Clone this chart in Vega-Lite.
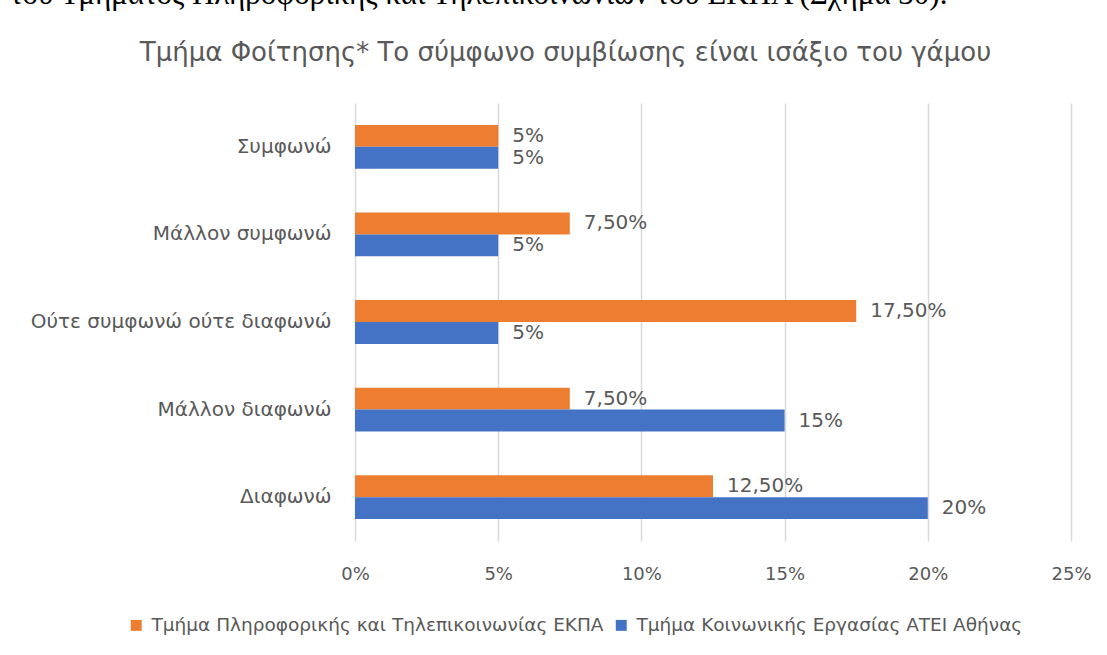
{
  "$schema": "https://vega.github.io/schema/vega-lite/v6.json",
  "autosize": "none",
  "width": 716,
  "height": 438,
  "padding": {"left": 355, "top": 103, "right": 36, "bottom": 114},
  "background": "white",
  "title": {
    "text": "του Τμήματος Πληροφορικής και Τηλεπικοινωνιών του ΕΚΠΑ (Σχήμα 30).",
    "font": "Liberation Serif",
    "fontSize": 31,
    "fontWeight": "normal",
    "color": "#000000",
    "anchor": "start",
    "frame": "group",
    "baseline": "alphabetic",
    "dx": -345,
    "offset": 4
  },
  "data": {
    "values": [
      {"cat": "Συμφωνώ", "series": "Τμήμα Πληροφορικής και Τηλεπικοινωνίας ΕΚΠΑ", "value": 0.05, "label": "5%"},
      {"cat": "Συμφωνώ", "series": "Τμήμα Κοινωνικής Εργασίας ΑΤΕΙ Αθήνας", "value": 0.05, "label": "5%"},
      {"cat": "Μάλλον συμφωνώ", "series": "Τμήμα Πληροφορικής και Τηλεπικοινωνίας ΕΚΠΑ", "value": 0.075, "label": "7,50%"},
      {"cat": "Μάλλον συμφωνώ", "series": "Τμήμα Κοινωνικής Εργασίας ΑΤΕΙ Αθήνας", "value": 0.05, "label": "5%"},
      {"cat": "Ούτε συμφωνώ ούτε διαφωνώ", "series": "Τμήμα Πληροφορικής και Τηλεπικοινωνίας ΕΚΠΑ", "value": 0.175, "label": "17,50%"},
      {"cat": "Ούτε συμφωνώ ούτε διαφωνώ", "series": "Τμήμα Κοινωνικής Εργασίας ΑΤΕΙ Αθήνας", "value": 0.05, "label": "5%"},
      {"cat": "Μάλλον διαφωνώ", "series": "Τμήμα Πληροφορικής και Τηλεπικοινωνίας ΕΚΠΑ", "value": 0.075, "label": "7,50%"},
      {"cat": "Μάλλον διαφωνώ", "series": "Τμήμα Κοινωνικής Εργασίας ΑΤΕΙ Αθήνας", "value": 0.15, "label": "15%"},
      {"cat": "Διαφωνώ", "series": "Τμήμα Πληροφορικής και Τηλεπικοινωνίας ΕΚΠΑ", "value": 0.125, "label": "12,50%"},
      {"cat": "Διαφωνώ", "series": "Τμήμα Κοινωνικής Εργασίας ΑΤΕΙ Αθήνας", "value": 0.2, "label": "20%"}
    ]
  },
  "encoding": {
    "y": {
      "field": "cat",
      "type": "nominal",
      "sort": ["Συμφωνώ", "Μάλλον συμφωνώ", "Ούτε συμφωνώ ούτε διαφωνώ", "Μάλλον διαφωνώ", "Διαφωνώ"],
      "scale": {"paddingInner": 0.5, "paddingOuter": 0.25},
      "axis": {
        "title": null,
        "domain": false,
        "ticks": false,
        "labelPadding": 24,
        "labelLimit": 0,
        "labelFont": "DejaVu Sans",
        "labelFontSize": 20,
        "labelColor": "#595959"
      }
    },
    "yOffset": {
      "field": "series",
      "type": "nominal",
      "sort": ["Τμήμα Πληροφορικής και Τηλεπικοινωνίας ΕΚΠΑ", "Τμήμα Κοινωνικής Εργασίας ΑΤΕΙ Αθήνας"],
      "scale": {"paddingInner": 0, "paddingOuter": 0}
    },
    "x": {
      "field": "value",
      "type": "quantitative",
      "scale": {"domain": [0, 0.25], "nice": false},
      "axis": {
        "title": null,
        "format": ".0%",
        "values": [0, 0.05, 0.1, 0.15, 0.2, 0.25],
        "domain": false,
        "ticks": false,
        "grid": true,
        "gridColor": "#d9d9d9",
        "gridWidth": 1.5,
        "labelFlush": false,
        "labelPadding": 24,
        "labelFont": "DejaVu Sans",
        "labelFontSize": 18,
        "labelColor": "#595959"
      }
    }
  },
  "layer": [
    {
      "mark": {"type": "bar"},
      "encoding": {
        "color": {
          "field": "series",
          "type": "nominal",
          "sort": ["Τμήμα Πληροφορικής και Τηλεπικοινωνίας ΕΚΠΑ", "Τμήμα Κοινωνικής Εργασίας ΑΤΕΙ Αθήνας"],
          "scale": {"range": ["#ED7D31", "#4472C4"]},
          "legend": {
            "title": null,
            "orient": "none",
            "direction": "horizontal",
            "legendX": -228,
            "legendY": 513,
            "symbolType": "square",
            "symbolSize": 120,
            "symbolStrokeWidth": 0,
            "labelFont": "DejaVu Sans",
            "labelFontSize": 18.5,
            "labelColor": "#595959",
            "labelOffset": 6,
            "columnPadding": 8,
            "labelLimit": 600
          }
        }
      }
    },
    {
      "mark": {"type": "text", "align": "left", "baseline": "middle", "dx": 14, "font": "DejaVu Sans", "fontSize": 20, "color": "#595959"},
      "encoding": {
        "text": {"field": "label"},
        "x": {
          "field": "value",
          "type": "quantitative",
          "axis": {
            "orient": "top",
            "labels": false,
            "ticks": false,
            "domain": false,
            "grid": false,
            "title": "Τμήμα Φοίτησης* Το σύμφωνο συμβίωσης είναι ισάξιο του γάμου",
            "titleFont": "DejaVu Sans",
            "titleFontSize": 26,
            "titleFontWeight": "normal",
            "titleColor": "#595959",
            "titleAlign": "center",
            "titleBaseline": "alphabetic",
            "titleX": 210,
            "titleY": -43
          }
        }
      }
    }
  ],
  "resolve": {"axis": {"x": "independent"}},
  "config": {"view": {"stroke": null}}
}
